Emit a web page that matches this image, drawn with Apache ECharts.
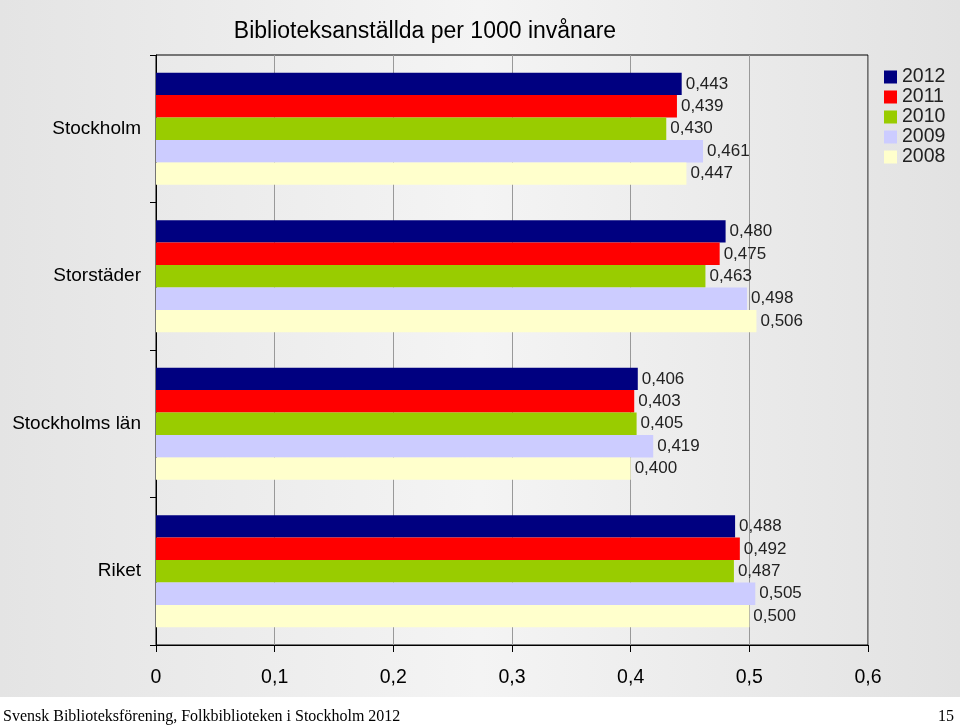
<!DOCTYPE html>
<html>
<head>
<meta charset="utf-8">
<script src="https://cdn.jsdelivr.net/npm/echarts@6/dist/echarts.min.js"></script>
<style>html,body{margin:0;padding:0;background:#fff;}#c{width:960px;height:725px;}</style>
</head>
<body>
<div id="c"></div>
<script>
const categories = ['Stockholm', 'Storstäder', 'Stockholms län', 'Riket'];
const years = ['2012', '2011', '2010', '2009', '2008'];
const v2012 = [0.443, 0.480, 0.406, 0.488];
const v2011 = [0.439, 0.475, 0.403, 0.492];
const v2010 = [0.430, 0.463, 0.405, 0.487];
const v2009 = [0.461, 0.498, 0.419, 0.505];
const v2008 = [0.447, 0.506, 0.400, 0.500];
const xTicks = ['0', '0,1', '0,2', '0,3', '0,4', '0,5', '0,6'];
const colors = ['#000080', '#ff0000', '#99cc00', '#ccccff', '#ffffcc'];
const seriesValues = [v2012, v2011, v2010, v2009, v2008];

const chart = echarts.init(document.getElementById('c'));
const fmt = v => v.toFixed(3).replace('.', ',');
chart.setOption({
  animation: false,
  textStyle: { fontFamily: 'Liberation Sans, Arial, sans-serif' },
  graphic: [
    { type: 'rect', z: -10, shape: { x: 0, y: 0, width: 960, height: 697 },
      style: { fill: new echarts.graphic.LinearGradient(0, 0, 1, 0, [
        { offset: 0, color: '#e4e4e4' }, { offset: 0.5, color: '#f4f4f4' }, { offset: 1, color: '#e2e2e2' }]) } },
    { type: 'text', left: 3, top: 709, style: { text: 'Svensk Biblioteksförening, Folkbiblioteken i Stockholm 2012', font: '16px "Liberation Serif", serif', fill: '#000' } },
    { type: 'text', right: 6, top: 709, style: { text: '15', font: '16px "Liberation Serif", serif', fill: '#000' } }
  ],
  title: {
    text: 'Biblioteksanställda per 1000 invånare', left: 420, textAlign: 'center', top: 15,
    textStyle: { fontSize: 23, fontWeight: 'normal', color: '#000', fontFamily: 'Liberation Sans, Arial, sans-serif' }
  },
  legend: {
    orient: 'vertical', left: 879, top: 62, itemWidth: 13, itemHeight: 13, itemGap: 0,
    icon: 'rect', data: years,
    textStyle: { fontSize: 19.5, lineHeight: 19, color: '#222' }
  },
  grid: { left: 156, right: 92, top: 55, bottom: 80, show: true, borderColor: '#000', borderWidth: 1, backgroundColor: 'transparent' },
  xAxis: {
    type: 'value', min: 0, max: 0.6, interval: 0.1,
    axisLine: { show: true, lineStyle: { color: '#000' } },
    axisTick: { show: true, length: 7, lineStyle: { color: '#000' } },
    splitLine: { show: true, lineStyle: { color: '#999' } },
    axisLabel: { fontSize: 19.5, color: '#000', margin: 23, formatter: (v) => xTicks[Math.round(v * 10)] }
  },
  yAxis: {
    type: 'category', data: categories, inverse: true,
    axisLine: { show: true, lineStyle: { color: '#000' } },
    axisTick: { show: true, length: 6, lineStyle: { color: '#000' } },
    axisLabel: { fontSize: 19, color: '#000', margin: 15 }
  },
  series: years.map((y, i) => ({
    name: y, type: 'bar', data: seriesValues[i],
    itemStyle: { color: colors[i] },
    barGap: '0%', barCategoryGap: '24%',
    label: { show: true, position: 'right', distance: 4, fontSize: 17, color: '#222', formatter: p => fmt(p.value) }
  }))
});
</script>
</body>
</html>
